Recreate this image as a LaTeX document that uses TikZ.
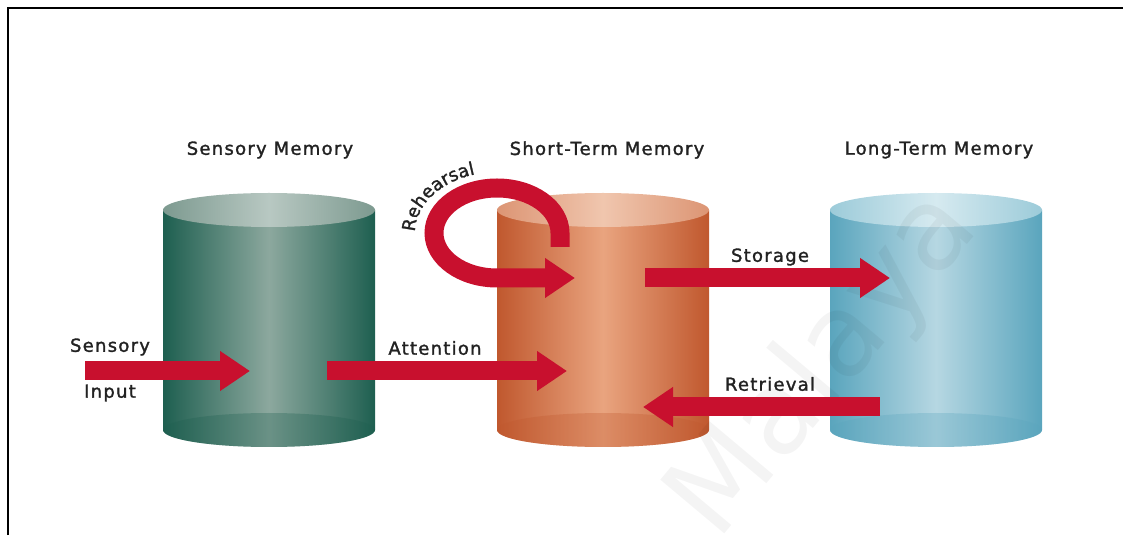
\documentclass[tikz,border=0pt]{standalone}
\usepackage{fontspec}
\setmainfont{DejaVu Sans}
\newfontfamily\labelfamily[LetterSpace=7, FakeBold=1.5]{DejaVu Sans}
\usetikzlibrary{arrows.meta,decorations.text}

\definecolor{smDark}{HTML}{1E5F50}
\definecolor{smLight}{HTML}{8CA89E}
\definecolor{smTop}{HTML}{7D9A90}
\definecolor{smTopLight}{HTML}{B8C8C2}
\definecolor{stmDark}{HTML}{C0582E}
\definecolor{stmLight}{HTML}{E9A47F}
\definecolor{stmTop}{HTML}{DC9574}
\definecolor{stmTopLight}{HTML}{F0C6AE}
\definecolor{ltmDark}{HTML}{5AA5BD}
\definecolor{ltmLight}{HTML}{B6D7E2}
\definecolor{ltmTop}{HTML}{9CCBD9}
\definecolor{ltmTopLight}{HTML}{D6EAF0}
\definecolor{flowred}{HTML}{C8102E}
\definecolor{labelgray}{HTML}{222222}

\newcommand\labelfont{\labelfamily\fontsize{13.5}{15}\selectfont}

\tikzset{
    memlabel/.style={font=\labelfont, text=labelgray, inner sep=0pt},
    flow/.style={draw=flowred, line width=14.25pt,
        -{Triangle[length=22.5pt 0, width=28.5pt 0]}},
    watermark/.style={font=\fontsize{86}{88}\selectfont, text=black, text opacity=0.045, rotate=50}
}

\begin{document}
\begin{tikzpicture}[x=0.75pt, y=0.75pt]
    \useasboundingbox (0,0) rectangle (1123,535);
    \draw[line width=1.5pt] (8,0) -- (8,527) -- (1123,527);

    % the three stores
    \foreach \cx/\dk/\lt/\tp/\tl in {269/smDark/smLight/smTop/smTopLight,
                                    603/stmDark/stmLight/stmTop/stmTopLight,
                                    936/ltmDark/ltmLight/ltmTop/ltmTopLight} {
        \shade[left color=\dk, right color=\dk, middle color=\lt]
            (\cx-106,325) -- (\cx-106,105)
            arc[start angle=180, end angle=360, x radius=106, y radius=17]
            -- (\cx+106,325) -- cycle;
        \fill[\dk, opacity=0.3] (\cx,105) ellipse[x radius=106, y radius=17];
        \shade[left color=\tp, right color=\tp, middle color=\tl]
            (\cx,325) ellipse[x radius=106, y radius=17];
    }

    \node[memlabel] (smLabel) at (270,385) {Sensory Memory};
    \node[memlabel] (stmLabel) at (607,385) {Short-Term Memory};
    \node[memlabel] (ltmLabel) at (939,385) {Long-Term Memory};

    \node[watermark] (wm) at (825,170) {Malaya};

    % arrow ends
    \coordinate (inStart) at (85,164);
    \coordinate (inTip) at (250,164);
    \coordinate (attStart) at (327,164);
    \coordinate (attTip) at (567,164);
    \coordinate (stoStart) at (645,257);
    \coordinate (stoTip) at (890,257);
    \coordinate (retStart) at (880,128);
    \coordinate (retTip) at (643,128);
    \coordinate (rhStart) at (560,288);
    \coordinate (rhTurn) at (560,302);
    \coordinate (rhTip) at (575,257);

    \draw[flow] (inStart) -- (inTip);
    \draw[flow] (attStart) -- (attTip);
    \draw[flow] (stoStart) -- (stoTip);
    \draw[flow] (retStart) -- (retTip);
    \draw[flow] (rhStart) -- (rhTurn)
        arc[start angle=0, end angle=270, x radius=63, y radius=45] -- (rhTip);

    \node[memlabel] (sensLabel) at (110,188) {Sensory};
    \node[memlabel] (inLabel) at (110,142) {Input};
    \node[memlabel] (attLabel) at (435,187) {Attention};
    \node[memlabel] (stoLabel) at (770,278) {Storage};
    \node[memlabel] (retLabel) at (770,151) {Retrieval};

    \path[decorate, decoration={text along path, text align=center,
            text={|\labelfont\color{labelgray}|Rehearsal}}]
        (415,304) arc[start angle=178, end angle=106, x radius=82, y radius=61];
\end{tikzpicture}
\end{document}
